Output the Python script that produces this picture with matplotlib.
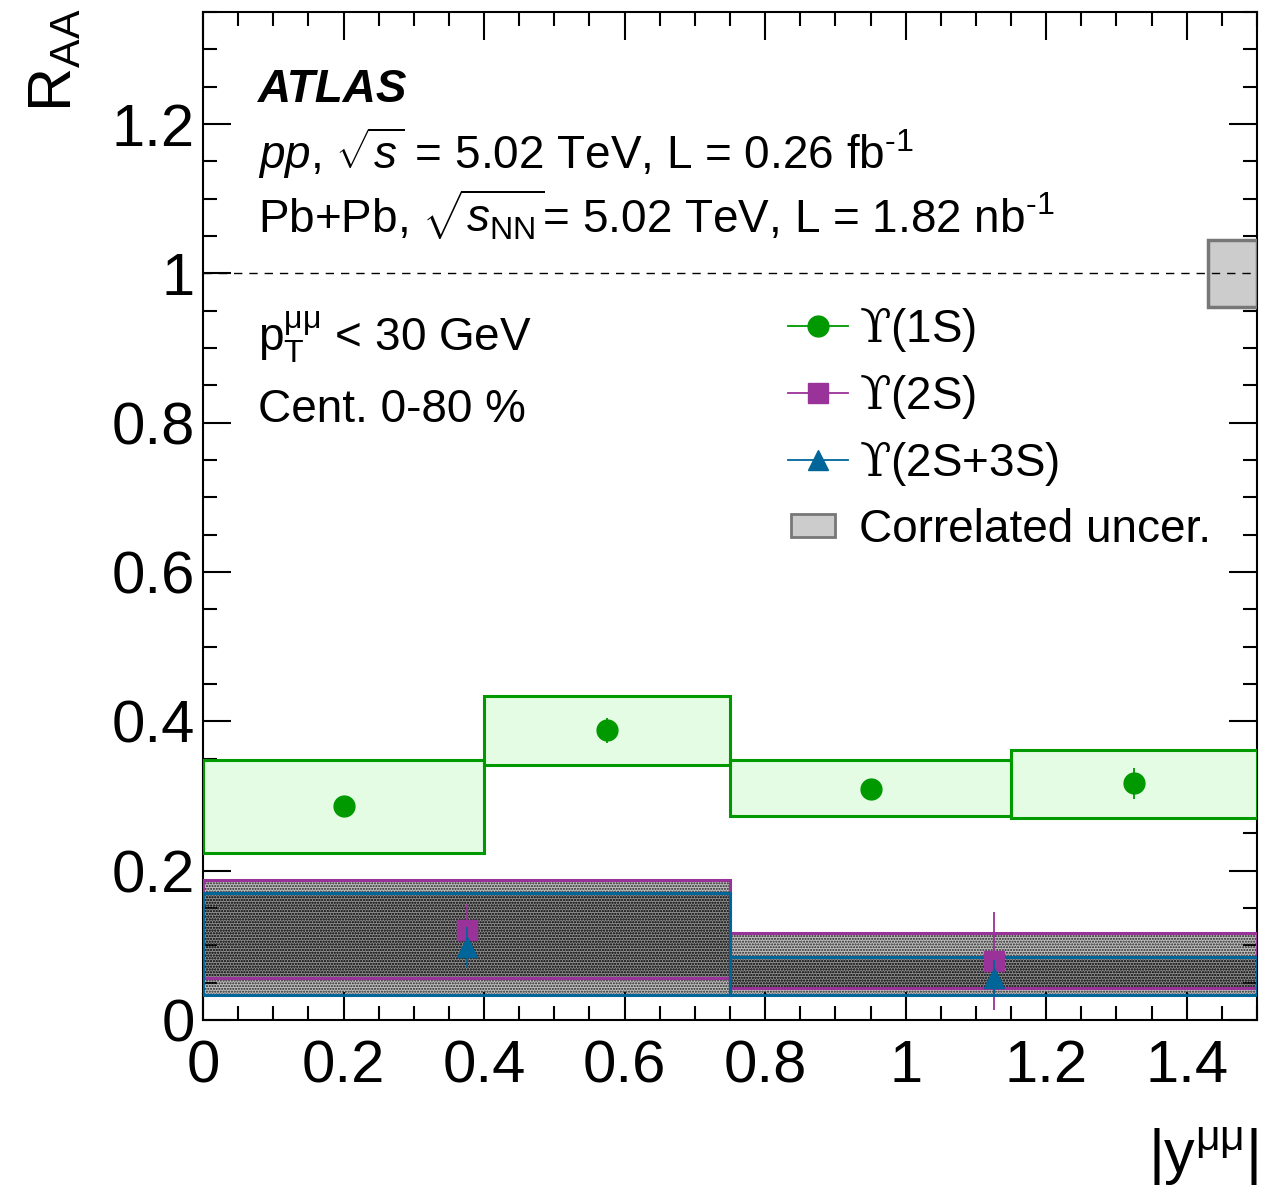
import matplotlib
matplotlib.use("Agg")
import matplotlib.pyplot as plt
from matplotlib.patches import Rectangle, Patch
from matplotlib.lines import Line2D
from matplotlib.ticker import MultipleLocator
from matplotlib.legend_handler import HandlerPatch

plt.rcParams['font.family'] = ['Liberation Sans', 'DejaVu Sans']
plt.rcParams['mathtext.fontset'] = 'custom'
plt.rcParams['mathtext.rm'] = 'Liberation Sans'
plt.rcParams['mathtext.it'] = 'Liberation Sans:italic'
plt.rcParams['mathtext.bf'] = 'Liberation Sans:bold'
plt.rcParams['mathtext.cal'] = 'DejaVu Serif'
plt.rcParams['hatch.linewidth'] = 1.0

# ---------------- data ----------------
# Upsilon(1S) in 4 rapidity bins
b1_lo = [0.0, 0.4, 0.75, 1.15]
b1_hi = [0.4, 0.75, 1.15, 1.5]
y1s_x = [0.2, 0.575, 0.95, 1.325]
y1s_val = [0.286, 0.388, 0.310, 0.317]
y1s_stat = [0.010, 0.017, 0.010, 0.021]
y1s_sys_lo = [0.223, 0.341, 0.273, 0.271]
y1s_sys_hi = [0.348, 0.434, 0.348, 0.362]

# Upsilon(2S) and Upsilon(2S+3S) in 2 bins
b2_lo = [0.0, 0.75]
b2_hi = [0.75, 1.5]
y2s_x = [0.375, 1.125]
y2s_val = [0.120, 0.079]
y2s_err_lo = [0.035, 0.066]
y2s_err_hi = [0.036, 0.066]
y2s_sys_lo = [0.056, 0.043]
y2s_sys_hi = [0.187, 0.116]

y23s_x = [0.375, 1.125]
y23s_val = [0.098, 0.056]
y23s_err_lo = [0.027, 0.025]
y23s_err_hi = [0.027, 0.025]
y23s_sys_lo = [0.033, 0.033]
y23s_sys_hi = [0.170, 0.084]

corr_x = [1.43, 1.5]
corr_unc = 0.045

x_ticks = [0, 0.2, 0.4, 0.6, 0.8, 1.0, 1.2, 1.4]
x_tick_labels = ['0', '0.2', '0.4', '0.6', '0.8', '1', '1.2', '1.4']
y_ticks = [0, 0.2, 0.4, 0.6, 0.8, 1.0, 1.2]
y_tick_labels = ['0', '0.2', '0.4', '0.6', '0.8', '1', '1.2']

GREEN = '#009900'
GREEN_FILL = '#e4fbe4'
PURPLE = '#993399'
BLUE = '#006699'
HYPH = '\u2010'

fig = plt.figure(figsize=(12.8, 11.94), dpi=100)
ax = fig.add_axes([203/1280, 1 - 1020/1194, (1257-203)/1280, (1020-12)/1194])
ax.set_xlim(0, 1.5)
ax.set_ylim(0, 1.35)

# 2S boxes (hatched)
for lo, hi, ylo, yhi in zip(b2_lo, b2_hi, y2s_sys_lo, y2s_sys_hi):
    ax.add_patch(Rectangle((lo, ylo), hi - lo, yhi - ylo, facecolor=(0, 0, 0, 0.25),
                           edgecolor='#222222', hatch='......', lw=0, zorder=2))
for lo, hi, ylo, yhi in zip(b2_lo, b2_hi, y23s_sys_lo, y23s_sys_hi):
    ax.add_patch(Rectangle((lo, ylo), hi - lo, yhi - ylo, facecolor=(0, 0, 0, 0.25),
                           edgecolor='#222222', hatch='......', lw=0, zorder=2.1))
for lo, hi, ylo, yhi in zip(b2_lo, b2_hi, y2s_sys_lo, y2s_sys_hi):
    ax.add_patch(Rectangle((lo, ylo), hi - lo, yhi - ylo, facecolor='none',
                           edgecolor=PURPLE, lw=2.2, zorder=3))
for lo, hi, ylo, yhi in zip(b2_lo, b2_hi, y23s_sys_lo, y23s_sys_hi):
    ax.add_patch(Rectangle((lo, ylo), hi - lo, yhi - ylo, facecolor='none',
                           edgecolor=BLUE, lw=2.2, zorder=3.1))

# 1S boxes
for lo, hi, ylo, yhi in zip(b1_lo, b1_hi, y1s_sys_lo, y1s_sys_hi):
    ax.add_patch(Rectangle((lo, ylo), hi - lo, yhi - ylo, facecolor=GREEN_FILL,
                           edgecolor=GREEN, lw=2.2, zorder=3))

# points
ax.errorbar(y2s_x, y2s_val, yerr=[y2s_err_lo, y2s_err_hi], fmt='s', color=PURPLE,
            ms=15, elinewidth=1.3, capsize=0, zorder=5)
ax.errorbar(y23s_x, y23s_val, yerr=[y23s_err_lo, y23s_err_hi], fmt='^', color=BLUE,
            ms=15, elinewidth=1.3, capsize=0, zorder=6)
ax.errorbar(y1s_x, y1s_val, yerr=y1s_stat, fmt='o', color=GREEN,
            ms=15, elinewidth=1.3, capsize=0, zorder=5)

# correlated uncertainty box and unity line
ax.add_patch(Rectangle((corr_x[0], 1 - corr_unc), corr_x[1] - corr_x[0], 2 * corr_unc,
                       facecolor='#cccccc', edgecolor='#777777', lw=2.5, zorder=3))
ax.axhline(1.0, color='black', lw=1.0, ls=(0, (6, 5)), zorder=4)

# ticks
ax.set_xticks(x_ticks)
ax.set_xticklabels(x_tick_labels)
ax.set_yticks(y_ticks)
ax.set_yticklabels(y_tick_labels)
ax.xaxis.set_minor_locator(MultipleLocator(0.05))
ax.yaxis.set_minor_locator(MultipleLocator(0.05))
ax.tick_params(which='both', direction='in', top=True, right=True, width=1.5)
ax.tick_params(which='major', length=20)
ax.tick_params(which='minor', length=10)
ax.tick_params(axis='x', which='major', labelsize=43, pad=14)
ax.tick_params(axis='y', which='major', labelsize=43, pad=6)
for s in ax.spines.values():
    s.set_linewidth(1.5)

# axis labels
fig.text(56/1280, 1 - 8/1194, r'R$_{\mathregular{AA}}$', rotation=90, ha='center', va='top',
         fontsize=44)
fig.text(1258/1280, 1 - 1188/1194, r'|y$^{\mathregular{\mu\mu}}$|', ha='right', va='bottom',
         fontsize=44)

# annotation text
def px(xp, yp):
    return ((xp - 203) / 1054, (1020 - yp) / 1008)

ax.text(*px(258, 90), 'ATLAS', transform=ax.transAxes, fontsize=33,
        fontweight='bold', fontstyle='italic', va='center', ha='left')
ax.text(*px(258, 153),
        r'$\it{pp}$, $\sqrt{s}$ = 5.02 TeV, L = 0.26 fb$^{\mathregular{' + HYPH + r'1}}$',
        transform=ax.transAxes, fontsize=33, va='center', ha='left')
ax.text(*px(258, 215),
        r'Pb+Pb, $\sqrt{s_{\mathregular{NN}}}$= 5.02 TeV, L = 1.82 nb$^{\mathregular{' + HYPH + r'1}}$',
        transform=ax.transAxes, fontsize=33, va='center', ha='left')
ax.text(*px(258, 337), r'p$_{\mathregular{T}}^{\mathregular{\mu\mu}}$ < 30 GeV',
        transform=ax.transAxes, fontsize=33, va='center', ha='left')
ax.text(*px(258, 410), 'Cent. 0-80 %',
        transform=ax.transAxes, fontsize=33, va='center', ha='left')


class SmallBox(HandlerPatch):
    def create_artists(self, legend, orig_handle, xdescent, ydescent, width, height,
                       fontsize, trans):
        w = width * 0.74
        h = height * 0.7
        p = Rectangle((-xdescent + width * 0.05, -ydescent + (height - h) / 2), w, h,
                      facecolor=orig_handle.get_facecolor(),
                      edgecolor=orig_handle.get_edgecolor(), lw=2, transform=trans)
        return [p]


# legend
handles = [
    Line2D([], [], color=GREEN, marker='o', ms=15, lw=1.3),
    Line2D([], [], color=PURPLE, marker='s', ms=15, lw=1.3),
    Line2D([], [], color=BLUE, marker='^', ms=15, lw=1.3),
    Patch(facecolor='#cccccc', edgecolor='#777777', lw=2),
]
UPS = '$\\mathcal{\u03d2}$'
labels = [UPS + '(1S)', UPS + '(2S)', UPS + '(2S+3S)', 'Correlated uncer.']
leg = ax.legend(handles, labels, loc='upper left', bbox_to_anchor=px(788, 306),
                frameon=False, fontsize=33, handlelength=1.3, handletextpad=0.25,
                labelspacing=0.42, borderpad=0, borderaxespad=0,
                handler_map={Patch: SmallBox()})

fig.savefig('out.png', dpi=100)
